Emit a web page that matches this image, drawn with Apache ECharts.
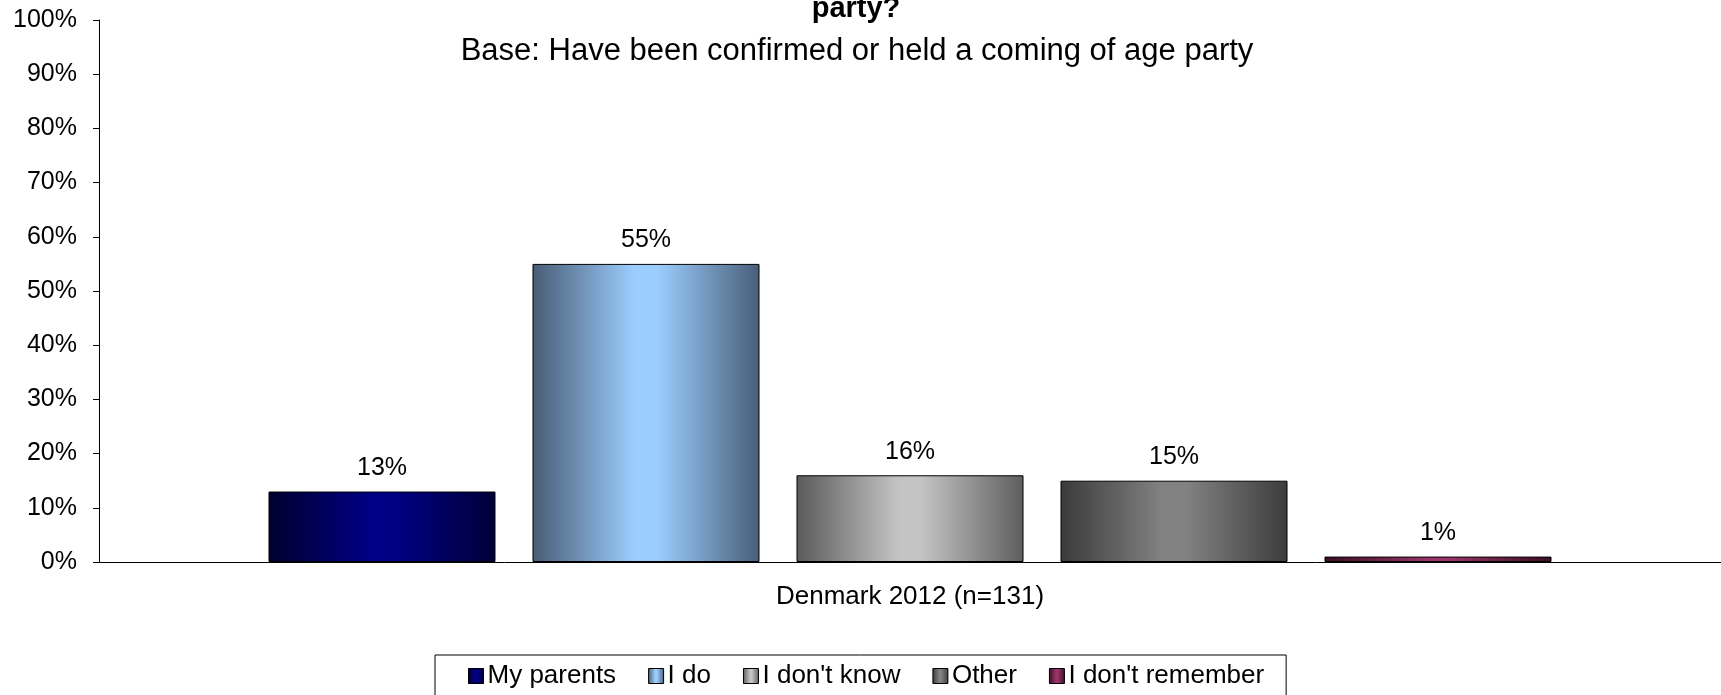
<!DOCTYPE html>
<html>
<head>
<meta charset="utf-8">
<title>Coming of age party</title>
<script src="https://cdn.jsdelivr.net/npm/echarts@6/dist/echarts.min.js"></script>
<style>
  html, body { margin: 0; padding: 0; background: #ffffff; }
  #chart { width: 1721px; height: 695px; }
</style>
</head>
<body>
<div id="chart"></div>
<script>
// Survey answers, percent of respondents
const categories = ['Denmark 2012 (n=131)'];
const seriesNames = ['My parents', 'I do', "I don't know", 'Other', "I don't remember"];
const myParents = [13];
const iDo = [55];
const dontKnow = [16];
const other = [15];
const dontRemember = [1];
const yTicks = [0, 10, 20, 30, 40, 50, 60, 70, 80, 90, 100];

const titleLine = 'party?';
const subtitle = 'Base: Have been confirmed or held a coming of age party';

const FONT = "'Liberation Sans', Arial, sans-serif";

// horizontal "cylinder" shading: dark edges, light middle
function shade(edgeL, mid, edgeR) {
  return new echarts.graphic.LinearGradient(0, 0, 1, 0, [
    { offset: 0, color: edgeL },
    { offset: 0.45, color: mid },
    { offset: 0.55, color: mid },
    { offset: 1, color: edgeR }
  ]);
}

const fills = [
  shade('#00002e', '#000085', '#000038'),
  shade('#485c74', '#9ccdff', '#485e78'),
  shade('#5a5a5a', '#c4c4c4', '#5e5e5e'),
  shade('#3a3a3a', '#828282', '#3c3c3c'),
  shade('#3a0e24', '#9b3468', '#3a0e24')
];
const values = [myParents, iDo, dontKnow, other, dontRemember];

const series = seriesNames.map((name, i) => ({
  name: name,
  type: 'bar',
  data: values[i],
  barWidth: 227,
  barGap: '16.3%',
  itemStyle: { color: fills[i], borderColor: '#000000', borderWidth: 1 },
  label: {
    show: true,
    position: 'top',
    distance: 11,
    formatter: '{c}%',
    color: '#000000',
    fontFamily: FONT,
    fontSize: 25
  }
}));

const chart = echarts.init(document.getElementById('chart'), null, { renderer: 'canvas' });
chart.setOption({
  backgroundColor: '#ffffff',
  animation: false,
  title: [
    {
      text: titleLine,
      left: 856, top: -6, textAlign: 'center', padding: 0,
      textStyle: { fontFamily: FONT, fontSize: 29, fontWeight: 'bold', color: '#000000' }
    },
    {
      text: subtitle,
      left: 857, top: 36, textAlign: 'center', padding: 0,
      textStyle: { fontFamily: FONT, fontSize: 31, fontWeight: 'normal', color: '#000000' }
    }
  ],
  grid: { left: 99, right: 0, top: 20, bottom: 133, containLabel: false },
  xAxis: {
    type: 'category',
    data: categories,
    axisLine: { show: true, lineStyle: { color: '#000000', width: 1 } },
    axisTick: { show: false },
    axisLabel: { color: '#000000', fontFamily: FONT, fontSize: 26, margin: 22 }
  },
  yAxis: {
    type: 'value',
    min: yTicks[0],
    max: yTicks[yTicks.length - 1],
    interval: yTicks[1] - yTicks[0],
    axisLine: { show: true, lineStyle: { color: '#000000', width: 1 } },
    axisTick: { show: true, length: 6, lineStyle: { color: '#000000' } },
    splitLine: { show: false },
    axisLabel: { color: '#000000', fontFamily: FONT, fontSize: 25, margin: 22, formatter: '{value}%' }
  },
  legend: {
    data: seriesNames,
    left: 435,
    top: 655,
    orient: 'horizontal',
    itemWidth: 15,
    itemHeight: 15,
    itemGap: 32,
    icon: 'rect',
    padding: [8, 22, 12, 33],
    borderColor: '#000000',
    borderWidth: 1,
    textStyle: { color: '#000000', fontFamily: FONT, fontSize: 26, padding: [0, 0, 0, -1] },
    itemStyle: { borderColor: '#000000', borderWidth: 1 }
  },
  series: series
});
</script>
</body>
</html>
